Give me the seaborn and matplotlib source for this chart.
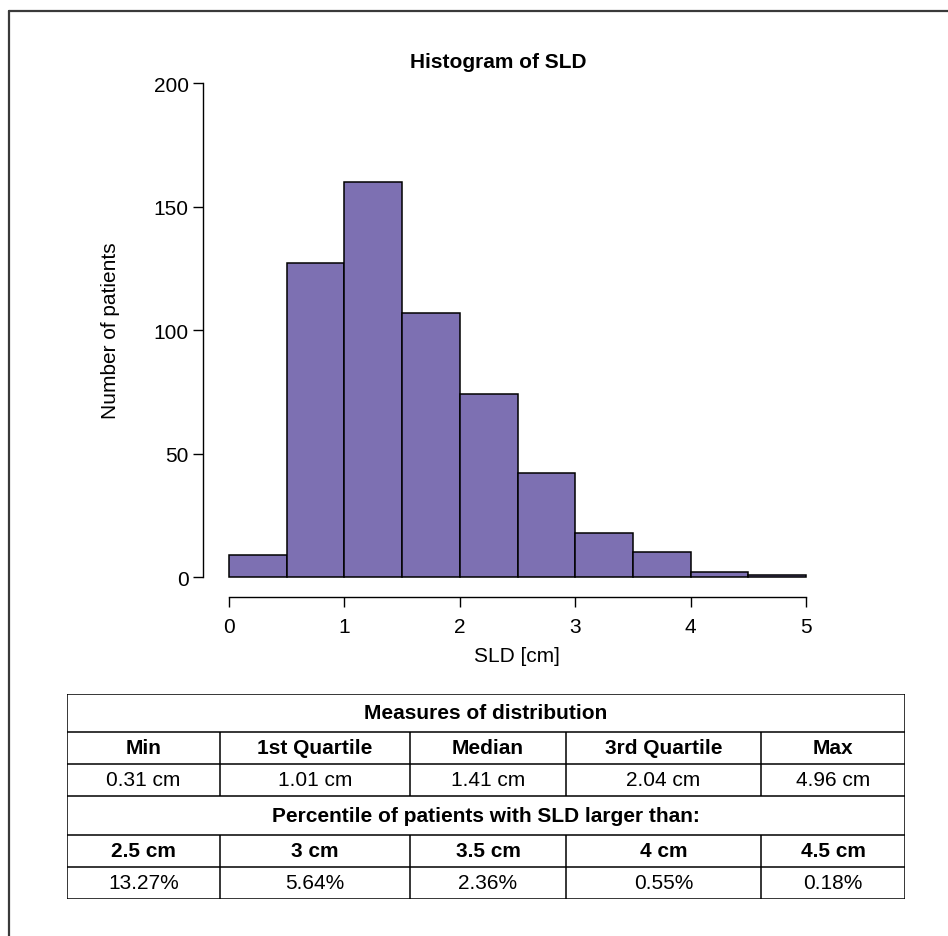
#!/usr/bin/env python3
"""
Histogram of SLD with a summary table underneath
"""

import numpy as np
import matplotlib
matplotlib.use("Agg")
import matplotlib.pyplot as plt
from matplotlib.lines import Line2D
import seaborn as sns

# histogram counts per 0.5 cm bin
bin_edges = [0.0, 0.5, 1.0, 1.5, 2.0, 2.5, 3.0, 3.5, 4.0, 4.5, 5.0]
counts = [9, 127, 160, 107, 74, 42, 18, 10, 2, 1]
x_ticks = [0, 1, 2, 3, 4, 5]
y_ticks = [0, 50, 100, 150, 200]

# table contents
stat_labels = ["Min", "1st Quartile", "Median", "3rd Quartile", "Max"]
stat_values = ["0.31 cm", "1.01 cm", "1.41 cm", "2.04 cm", "4.96 cm"]
threshold_labels = ["2.5 cm", "3 cm", "3.5 cm", "4 cm", "4.5 cm"]
pct_values = ["13.27%", "5.64%", "2.36%", "0.55%", "0.18%"]

W, H = 948, 937
BAR_COLOR = "#7d70b2"
FONT = ["Liberation Sans", "DejaVu Sans"]
TABLE_FS = 15


def px_box(left, top, right, bottom):
    """pixel box -> figure fraction rect"""
    return [left / W, 1 - bottom / H, (right - left) / W, (bottom - top) / H]


def draw_histogram(fig):
    ax = fig.add_axes(px_box(203, 84, 830, 598))
    mids = [(a + b) / 2 for a, b in zip(bin_edges[:-1], bin_edges[1:])]
    sns.histplot(x=mids, weights=counts, bins=bin_edges, color=BAR_COLOR,
                 edgecolor="black", linewidth=1.1, alpha=1, ax=ax)

    # 0 -> px 229, 5 -> px 806, 200 -> px 84, 0 -> px 578
    sx = (806 - 229) / 5
    sy = (578 - 84) / 200
    ax.set_xlim((203 - 229) / sx, (830 - 229) / sx)
    ax.set_ylim(-(598 - 578) / sy, 200)

    for side in ["top", "right"]:
        ax.spines[side].set_visible(False)
    ax.spines["left"].set_bounds(0, 200)
    ax.spines["bottom"].set_bounds(0, 5)
    for side in ["left", "bottom"]:
        ax.spines[side].set_linewidth(1.0)
        ax.spines[side].set_color("black")

    ax.set_xticks(x_ticks)
    ax.set_yticks(y_ticks)
    ax.set_xticklabels([str(t) for t in x_ticks])
    ax.set_yticklabels([str(t) for t in y_ticks])
    ax.tick_params(axis="both", bottom=True, left=True, direction="out",
                   length=7.2, width=1.0, labelsize=15, colors="black")
    ax.tick_params(axis="x", pad=7)
    ax.tick_params(axis="y", pad=3)
    ax.set_xlabel("")
    ax.set_ylabel("")
    ax.grid(False)

    fig.text(498 / W, 1 - 62 / H, "Histogram of SLD", ha="center", va="center",
             fontsize=15, fontweight="bold")
    fig.text(517 / W, 1 - 657 / H, "SLD [cm]", ha="center", va="center", fontsize=15)
    fig.text(110 / W, 1 - 331 / H, "Number of patients", ha="center", va="center",
             rotation=90, fontsize=15)
    return ax


def draw_table(fig):
    left, top, right, bottom = 67, 695, 905, 900
    ax = fig.add_axes(px_box(left, top, right, bottom))
    ax.set_xlim(left, right)
    ax.set_ylim(bottom, top)
    ax.axis("off")

    col_edges = [67, 220, 410, 566, 761, 905]
    row_edges = [695, 733, 765, 797, 836, 868, 900]
    lw = 1.1

    # horizontal rules
    ax.hlines(row_edges, left, right, color="black", lw=lw)
    ax.vlines([left, right], top, bottom, color="black", lw=lw)
    # column dividers only in the data rows
    for r0, r1 in [(1, 3), (4, 6)]:
        ax.vlines(col_edges[1:-1], row_edges[r0], row_edges[r1], color="black", lw=lw)

    centers = [(a + b) / 2 for a, b in zip(col_edges[:-1], col_edges[1:])]
    rmid = [(a + b) / 2 for a, b in zip(row_edges[:-1], row_edges[1:])]

    ax.text((left + right) / 2, rmid[0], "Measures of distribution", ha="center",
            va="center", fontsize=TABLE_FS, fontweight="bold")
    ax.text((left + right) / 2, rmid[3], "Percentile of patients with SLD larger than:",
            ha="center", va="center", fontsize=TABLE_FS, fontweight="bold")
    for cx, a, b, c, d in zip(centers, stat_labels, stat_values, threshold_labels, pct_values):
        ax.text(cx, rmid[1], a, ha="center", va="center", fontsize=TABLE_FS, fontweight="bold")
        ax.text(cx, rmid[2], b, ha="center", va="center", fontsize=TABLE_FS)
        ax.text(cx, rmid[4], c, ha="center", va="center", fontsize=TABLE_FS, fontweight="bold")
        ax.text(cx, rmid[5], d, ha="center", va="center", fontsize=TABLE_FS)
    return ax


def main():
    sns.set_style("white")
    plt.rcParams["font.family"] = FONT
    plt.rcParams["text.color"] = "black"

    fig = plt.figure(figsize=(W / 100, H / 100), dpi=100)
    fig.patch.set_facecolor("white")

    draw_histogram(fig)
    draw_table(fig)

    # outer frame (cropped on the right and bottom)
    fig.add_artist(Line2D([9 / W, 1.0], [1 - 12 / H, 1 - 12 / H], color="#3a3a3a", lw=1.6))
    fig.add_artist(Line2D([9 / W, 9 / W], [1 - 12 / H, 0.0], color="#3a3a3a", lw=1.6))

    fig.savefig("out.png", dpi=100)
    plt.close("all")


if __name__ == "__main__":
    main()
